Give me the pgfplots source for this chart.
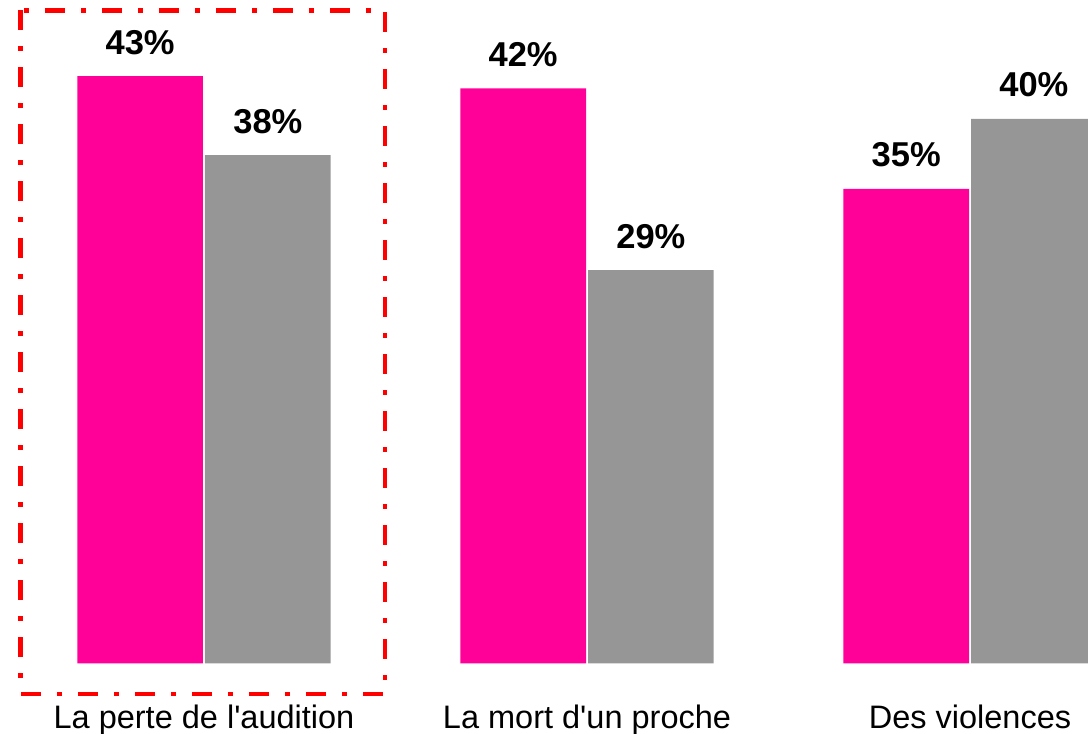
\documentclass[border=0pt]{standalone}
\usepackage{fontspec}
\setmainfont{Liberation Sans}
\usepackage{pgfplots}
\pgfplotsset{compat=1.18}
\definecolor{barpink}{RGB}{255,0,153}
\definecolor{bargray}{RGB}{150,150,150}
\begin{document}
\begin{tikzpicture}
\path[use as bounding box, clip] (0pt,0pt) rectangle (1088pt,734pt);
\begin{axis}[
  at={(0pt,70.7pt)}, anchor=south west,
  scale only axis, width=1088pt, height=663.3pt,
  xmin=-0.5326, xmax=2.308, ymin=0, ymax=48.77,
  clip=false,
  axis line style={draw=none}, tick style={draw=none},
  ytick=\empty,
  xtick={0,1,2},
  xticklabels={La perte de l\textquotesingle audition, La mort d\textquotesingle un proche, Des violences},
  xticklabel style={font=\fontsize{32.5}{39}\selectfont, anchor=base, yshift=-60.5pt, inner sep=0pt},
  ybar=2pt, bar width=125.7pt,
  point meta=explicit symbolic,
  nodes near coords={\pgfplotspointmeta},
  every node near coord/.append style={font=\bfseries\fontsize{34.5}{41}\selectfont, anchor=base, inner sep=0pt, yshift=22pt, text=black},
]
\addplot[fill=barpink, draw=none] coordinates {(0,43.18)[43\%] (1,42.28)[42\%] (2,34.88)[35\%]};
\addplot[fill=bargray, draw=none] coordinates {(0,37.37)[38\%] (1,28.90)[29\%] (2,40.02)[40\%]};
\end{axis}
\draw[red, line width=4.5pt, dash pattern=on 20pt off 16pt on 5pt off 16pt] (20.5pt,723.5pt) rectangle (385pt,40pt);
\end{tikzpicture}
\end{document}
